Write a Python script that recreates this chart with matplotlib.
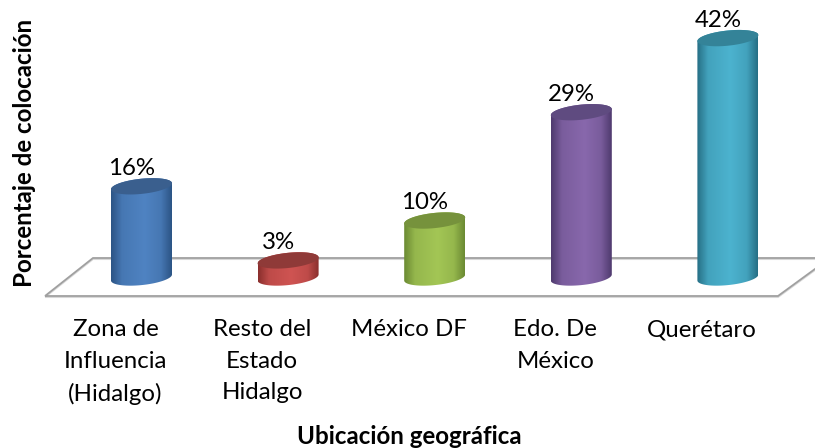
#!/usr/bin/env python3
import matplotlib
matplotlib.use('Agg')
import matplotlib.pyplot as plt
from matplotlib.colors import LinearSegmentedColormap, to_rgb
from matplotlib.patches import Polygon
from matplotlib.path import Path
from matplotlib.patches import PathPatch
import numpy as np

plt.rcParams['font.family'] = ['Lato', 'DejaVu Sans']

categories = ['Zona de\nInfluencia\n(Hidalgo)', 'Resto del\nEstado\nHidalgo', 'México DF',
              'Edo. De\nMéxico', 'Querétaro']
values = [16, 3, 10, 29, 42]
edge_colors = ['#2c5485', '#8a2f2d', '#6b8a33', '#4f3a6e', '#266f85']
mid_colors = ['#4f83c2', '#cf5452', '#a3c655', '#8868ac', '#4cb3cf']
top_colors = ['#3a5f8e', '#8f3a38', '#76923c', '#5f4b80', '#348398']

W, H = 815, 448
X0, DX = 141.5, 146.6     # pixel of first category, pixels per category
Y0, DY = 277.5, 5.7       # pixel of 0 %, pixels per 1 %

fig = plt.figure(figsize=(W / 100, H / 100), dpi=100)
ax = fig.add_axes([0, 0, 1, 1])
ax.axis('off')


def to_x(px):
    return (px - X0) / DX


def to_y(py):
    return (Y0 - py) / DY


def ellipse(cx, cy, t):
    # tilted ellipse, right side sits a little higher than the left
    x = cx + 30.5 / DX * np.cos(t)
    y = cy + 7.6 / DY * np.sin(t) + 3.0 / DY * np.cos(t)
    return x, y


def blend(a, b, f):
    return tuple(np.array(to_rgb(a)) * (1 - f) + np.array(to_rgb(b)) * f)


# floor
floor = [(45, 296), (778, 296), (830, 258), (93, 258)]
ax.add_patch(Polygon([(to_x(a), to_y(b + 1.2)) for a, b in floor], closed=True,
                     fill=False, ec='#d8d8d8', lw=1.2, zorder=1))
ax.add_patch(Polygon([(to_x(a), to_y(b)) for a, b in floor], closed=True,
                     fill=False, ec='#a0a0a0', lw=1.3, zorder=2))

for i, v in enumerate(values):
    # body: lower half of the bottom ellipse + upper half of the top ellipse
    t_low = np.linspace(np.pi, 2 * np.pi, 60)
    t_up = np.linspace(0, np.pi, 60)
    xb, yb = ellipse(i, 0, t_low)
    xt, yt = ellipse(i, v, t_up)
    verts = np.column_stack([np.r_[xb, xt], np.r_[yb, yt]])
    verts = np.vstack([verts, verts[0]])
    clip = PathPatch(Path(verts), transform=ax.transData, fc='none', ec='none')
    ax.add_patch(clip)

    cmap = LinearSegmentedColormap.from_list(
        'c%d' % i, [(0, edge_colors[i]),
                    (0.18, blend(edge_colors[i], mid_colors[i], 0.75)),
                    (0.55, mid_colors[i]),
                    (0.82, blend(edge_colors[i], mid_colors[i], 0.75)),
                    (1, edge_colors[i])])
    grad = np.linspace(0, 1, 200).reshape(1, -1)
    half = 30.5 / DX
    im = ax.imshow(grad, cmap=cmap, aspect='auto', interpolation='bilinear', zorder=3,
                   extent=[i - half, i + half, yb.min() - 1, yt.max() + 1])
    im.set_clip_path(clip)

    # top cap
    t = np.linspace(0, 2 * np.pi, 120)
    xc, yc = ellipse(i, v, t)
    ax.fill(xc, yc, color=top_colors[i], lw=0, zorder=4)

    ax.text(i - 10 / DX, v + 18 / DY, '%d%%' % v, ha='center', va='center',
            fontsize=17.3, color='black', zorder=5)

    ax.text(i - 26 / DX, to_y(319), categories[i], ha='center', va='top', fontsize=17.3,
            linespacing=1.62, color='black')

ax.set_xlim(-X0 / DX, (W - X0) / DX)
ax.set_ylim((Y0 - H) / DY, Y0 / DY)

ax.text(to_x(409.5), to_y(436), 'Ubicación geográfica', ha='center', va='center',
        fontsize=17.4, fontweight='bold')
ax.text(to_x(25), to_y(153), 'Porcentaje de colocación', ha='center', va='center',
        rotation=90, fontsize=17.4, fontweight='bold')

fig.savefig('out.png', dpi=100)
